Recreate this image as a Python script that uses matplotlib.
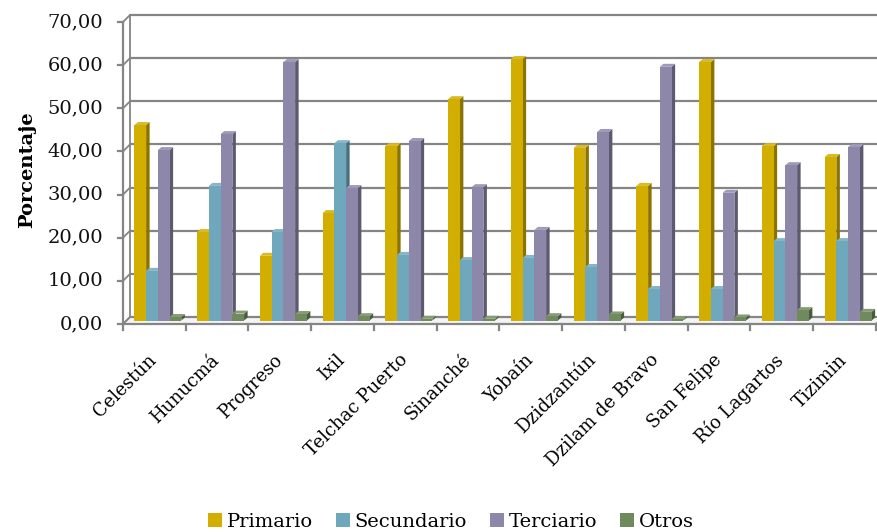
import matplotlib
matplotlib.use("Agg")
import matplotlib.pyplot as plt
from matplotlib.patches import Polygon, Patch
from matplotlib.colors import to_rgb

# ---- data -------------------------------------------------------------
municipios = ["Celestún", "Hunucmá", "Progreso", "Ixil", "Telchac Puerto",
              "Sinanché", "Yobaín", "Dzidzantún", "Dzilam de Bravo",
              "San Felipe", "Río Lagartos", "Tizimin"]
primario = [45.3, 20.5, 15.0, 24.9, 40.4, 51.3, 60.6, 40.0, 31.2, 59.9, 40.4, 37.9]
secundario = [11.5, 31.2, 20.5, 41.1, 15.2, 14.0, 14.5, 12.4, 7.3, 7.3, 18.4, 18.4]
terciario = [39.5, 43.2, 59.9, 30.7, 41.6, 30.9, 21.0, 43.7, 58.8, 29.6, 36.0, 40.2]
otros = [0.8, 1.6, 1.5, 1.0, 0.4, 0.4, 1.0, 1.4, 0.3, 0.7, 2.4, 2.0]
series_names = ["Primario", "Secundario", "Terciario", "Otros"]
yticks = [0, 10, 20, 30, 40, 50, 60, 70]

colors = ["#D2AE00", "#6FA8BC", "#8D88AA", "#6F8A5C"]

# ---- figure / axes ------------------------------------------------------
W, H = 878, 532
fig = plt.figure(figsize=(W / 100, H / 100), dpi=100)
plt.rcParams["font.family"] = ["DejaVu Serif"]

x0_px, y0_px, x1_px, y1_px = 123, 324, 876, 22   # front plane corners (pixels from top-left)
ax = fig.add_axes([x0_px / W, (H - y0_px) / H, (x1_px - x0_px) / W, (y0_px - y1_px) / H])
ncat = len(municipios)
ymax = 70
ax.set_xlim(0, ncat)
ax.set_ylim(0, ymax)
ax.axis("off")

px_x = (x1_px - x0_px) / ncat          # pixels per category
px_y = (y0_px - y1_px) / ymax          # pixels per percent unit


def dx(p):
    return p / px_x


def dy(p):
    return p / px_y


grid_c = "#858585"
# 3-D depth of the back wall
wall_dx, wall_dy = dx(7), dy(7)

# floor slab
floor = Polygon([(0, 0), (ncat, 0), (ncat + wall_dx, wall_dy), (wall_dx, wall_dy)],
                closed=True, facecolor="#F4F4F4", edgecolor=grid_c, lw=1.2,
                clip_on=False, zorder=1)
ax.add_patch(floor)

# back wall gridlines and the slanted side-wall edges
for t in yticks:
    ax.plot([wall_dx, ncat + 0.2], [t + wall_dy, t + wall_dy], color=grid_c, lw=1.6,
            clip_on=False, zorder=1, solid_capstyle="butt")
    ax.plot([0, wall_dx], [t, t + wall_dy], color=grid_c, lw=1.3, clip_on=False, zorder=1)
# back wall left edge
ax.plot([wall_dx, wall_dx], [wall_dy, ymax + wall_dy], color=grid_c, lw=1.3,
        clip_on=False, zorder=1)

# front value axis with ticks
ax.plot([0, 0], [0, ymax], color=grid_c, lw=1.6, clip_on=False, zorder=6)
for t in yticks:
    ax.plot([-dx(5), 0], [t, t], color=grid_c, lw=1.6, clip_on=False, zorder=6)
    ax.text(-dx(20), t, f"{t:.2f}".replace(".", ","), ha="right", va="center",
            fontsize=14, color="#111111")

# front category axis with ticks
ax.plot([0, ncat], [0, 0], color=grid_c, lw=1.6, clip_on=False, zorder=6)
for i in range(ncat + 1):
    ax.plot([i, i], [0, -dy(6)], color=grid_c, lw=1.6, clip_on=False, zorder=6)

# ---- 3-D columns -------------------------------------------------------
bar_w = dx(11.75)
shift_x, shift_y = dx(3.5), dy(3.5)     # columns sit mid-depth
depth_x, depth_y = dx(3.5), dy(3.0)


def shade(c, f):
    r, g, b = to_rgb(c)
    return (r * f, g * f, b * f)


def lighten(c, f):
    r, g, b = to_rgb(c)
    return (r + (1 - r) * f, g + (1 - g) * f, b + (1 - b) * f)


all_series = [primario, secundario, terciario, otros]
nser = len(all_series)
z = 2
for i in range(ncat):
    left = i + 0.5 - nser * bar_w / 2 + shift_x
    for s, vals in enumerate(all_series):
        v = vals[i]
        xl = left + s * bar_w
        xr = xl + bar_w
        yb = shift_y
        yt = shift_y + v
        c = colors[s]
        front = Polygon([(xl, yb), (xr, yb), (xr, yt), (xl, yt)], closed=True,
                        facecolor=c, edgecolor="none", zorder=z + 0.2, clip_on=False)
        side = Polygon([(xr, yb), (xr + depth_x, yb + depth_y),
                        (xr + depth_x, yt + depth_y), (xr, yt)], closed=True,
                       facecolor=shade(c, 0.66), edgecolor="none", zorder=z + 0.1,
                       clip_on=False)
        top = Polygon([(xl, yt), (xr, yt), (xr + depth_x, yt + depth_y),
                       (xl + depth_x, yt + depth_y)], closed=True,
                      facecolor=lighten(c, 0.15), edgecolor="none", zorder=z + 0.15,
                      clip_on=False)
        for p in (side, top, front):
            ax.add_patch(p)
        z += 1

# ---- category labels -----------------------------------------------------
for i, name in enumerate(municipios):
    ax.annotate(name, xy=(i + 0.5, 0), xytext=(6, -27), textcoords="offset pixels",
                ha="right", va="top", rotation=45, fontsize=13, color="black",
                annotation_clip=False)

# ---- axis title ------------------------------------------------------------
fig.text(27 / W, 1 - 170 / H, "Porcentaje", rotation=90, ha="center", va="center",
         fontsize=14, fontweight="bold")

# ---- legend ---------------------------------------------------------------
handles = [Patch(facecolor=c, edgecolor="none") for c in colors]
fig.legend(handles, series_names, loc="center", bbox_to_anchor=(451 / W, 1 - 522 / H),
           ncol=4, frameon=False, fontsize=14, handlelength=0.7, handleheight=0.7,
           handletextpad=0.25, columnspacing=1.2, borderpad=0)

fig.savefig("out.png", dpi=100)
